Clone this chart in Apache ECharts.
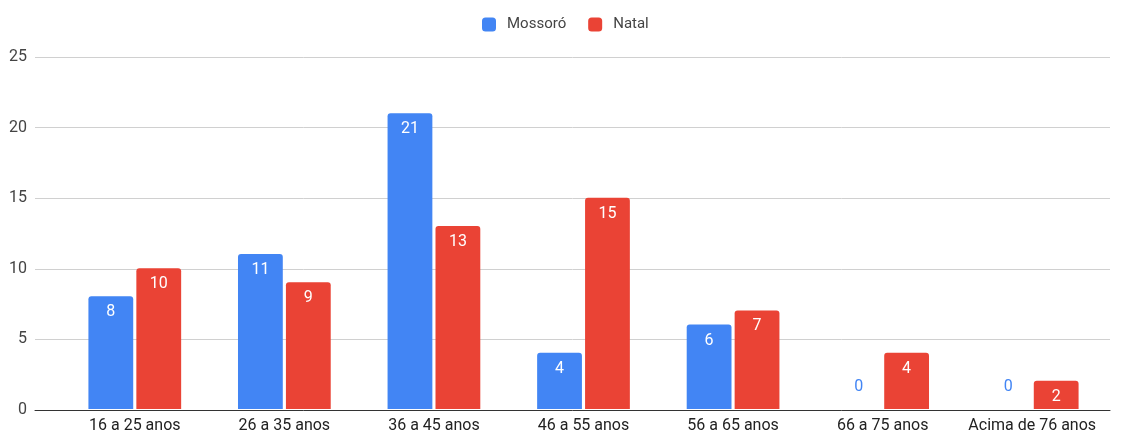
<!DOCTYPE html>
<html>
<head>
<meta charset="utf-8">
<script src="https://cdn.jsdelivr.net/npm/echarts@6/dist/echarts.min.js"></script>
<style>
  html, body { margin: 0; padding: 0; background: #fff; }
  #chart { width: 1123px; height: 434px; }
</style>
</head>
<body>
<div id="chart"></div>
<script>
// Faixas etárias e contagens por cidade
const categories = ['16 a 25 anos', '26 a 35 anos', '36 a 45 anos', '46 a 55 anos', '56 a 65 anos', '66 a 75 anos', 'Acima de 76 anos'];
const mossoro = [8, 11, 21, 4, 6, 0, 0];
const natal = [10, 9, 13, 15, 7, 4, 2];
const yTicks = [0, 5, 10, 15, 20, 25];

const BLUE = '#4285F4';
const RED = '#EA4335';
const FONT = 'Roboto, Arial, sans-serif';

function barData(values, color) {
  return values.map(v => {
    if (v === 0) {
      return { value: v, label: { position: 'top', distance: 14, color: color } };
    }
    return v;
  });
}

const chart = echarts.init(document.getElementById('chart'), null, { renderer: 'canvas' });
chart.setOption({
  animation: false,
  textStyle: { fontFamily: FONT },
  legend: {
    top: 12,
    left: 477,
    itemWidth: 14,
    itemHeight: 14,
    itemGap: 22,
    icon: 'roundRect',
    textStyle: { fontSize: 15, color: '#444', fontFamily: FONT, padding: [0, 0, 0, 6] },
    data: ['Mossoró', 'Natal']
  },
  grid: [
    { left: 35, right: 13, top: 57, bottom: 24 },
    { left: 60, right: 16, top: 57, bottom: 24 }
  ],
  xAxis: [
    {
      gridIndex: 0, type: 'value', min: 0, max: 1,
      axisLabel: { show: false }, axisTick: { show: false }, splitLine: { show: false },
      axisLine: { show: true, lineStyle: { color: '#333', width: 1 } }
    },
    {
      gridIndex: 1, type: 'category', data: categories,
      axisLine: { show: false }, axisTick: { show: false },
      axisLabel: { color: '#222', fontSize: 16, margin: 9, fontFamily: FONT, interval: 0 }
    }
  ],
  yAxis: [
    {
      gridIndex: 0, type: 'value', min: yTicks[0], max: yTicks[yTicks.length - 1], interval: 5,
      axisLine: { show: false }, axisTick: { show: false },
      axisLabel: { color: '#444', fontSize: 16, margin: 8, fontFamily: FONT },
      splitLine: { lineStyle: { color: '#d0d0d0', width: 1 } }
    },
    {
      gridIndex: 1, type: 'value', min: yTicks[0], max: yTicks[yTicks.length - 1], interval: 5,
      show: false, splitLine: { show: false }
    }
  ],
  series: [
    {
      name: 'Mossoró', type: 'bar', xAxisIndex: 1, yAxisIndex: 1,
      data: barData(mossoro, BLUE),
      barCategoryGap: '38%', barGap: '7%',
      itemStyle: { color: BLUE, borderRadius: [3, 3, 0, 0] },
      label: { show: true, position: 'insideTop', distance: 8, color: '#fff', fontSize: 16, fontFamily: FONT }
    },
    {
      name: 'Natal', type: 'bar', xAxisIndex: 1, yAxisIndex: 1,
      data: barData(natal, RED),
      barCategoryGap: '38%', barGap: '7%',
      itemStyle: { color: RED, borderRadius: [3, 3, 0, 0] },
      label: { show: true, position: 'insideTop', distance: 8, color: '#fff', fontSize: 16, fontFamily: FONT }
    }
  ]
});
</script>
</body>
</html>
